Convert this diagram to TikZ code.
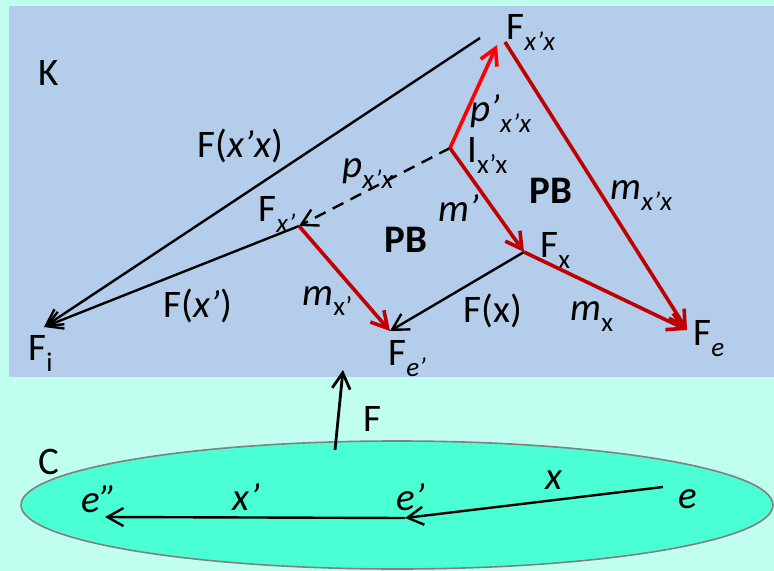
\documentclass[tikz,border=0pt]{standalone}
\usepackage{fontspec}
\setmainfont{Carlito}
\usepackage{tikz}
\usetikzlibrary{arrows.meta,positioning}
\definecolor{mint}{HTML}{C0FFEF}
\definecolor{kblue}{HTML}{B3CDEA}
\definecolor{cgreen}{HTML}{4AFFD4}
\definecolor{darkred}{HTML}{C00000}
\definecolor{brightred}{HTML}{FF0000}
\newcommand{\sbs}[1]{\raisebox{-5.5pt}{\fontsize{13.5}{14}\selectfont #1}}
\newcommand{\pr}{\char"27\relax}

\begin{document}
\begin{tikzpicture}[x=0.5pt,y=-0.5pt,
  lbl/.style={font=\fontsize{19.5}{22}\selectfont, inner sep=0pt, anchor=base west},
  tip/.style={-{Straight Barb[length=8pt,width=9pt]}},
  blk/.style={tip, draw=black, line width=1.2pt},
  redarr/.style={tip, draw=darkred, line width=1.8pt},
  pbar/.style={tip, draw=brightred, line width=1.8pt}]
  \useasboundingbox (0,0) rectangle (774,571);
  % backgrounds
  \fill[mint] (0,0) rectangle (774,571);
  \fill[kblue] (9,6) rectangle (774,377);
  \draw[gray, line width=0.8pt, fill=cgreen] (397,505) ellipse (376 and 64);
  % points of K
  \coordinate (ftop) at (480,38);
  \coordinate (fxx) at (497,45);
  \coordinate (fxxs) at (505,42);
  \coordinate (ixx) at (450,148);
  \coordinate (fxp) at (299,226);
  \coordinate (fx) at (524,252);
  \coordinate (fep) at (390,331);
  \coordinate (fe) at (687,330);
  \coordinate (fi) at (44,327);
  % labels of K
  \node[lbl] (k) at (38,86) {K};
  \node[lbl] (lfxx) at (506,40) {F\sbs{\textit{x\pr x}}};
  \node[lbl] (lixx) at (467,163) {I\sbs{x\pr x}};
  \node[lbl] (lfxp) at (258,222) {F\sbs{\textit{x'}}};
  \node[lbl] (lfx) at (540,257) {F\sbs{x}};
  \node[lbl] (lfep) at (388,365) {F\sbs{\textit{e'}}};
  \node[lbl] (lfe) at (693,345) {F\sbs{\textit{e}}};
  \node[lbl] (lfi) at (28,360) {F\sbs{i}};
  \node[lbl] (lpp) at (470,122) {\textit{p\pr}\sbs{\textit{x\pr x}}};
  \node[lbl] (lp) at (342,178) {\textit{p}\sbs{\textit{x\pr x}}};
  \node[lbl] (lmp) at (438,222) {\textit{m'}};
  \node[lbl] (lmxx) at (610,200) {\textit{m}\sbs{\textit{x\pr x}}};
  \node[lbl] (lmxp) at (302,305) {\textit{m}\sbs{x'}};
  \node[lbl] (lmx) at (570,320) {\textit{m}\sbs{x}};
  \node[lbl] (lFx) at (463,322) {F(x)};
  \node[lbl] (lFxp) at (163,317) {F(\textit{x\pr})};
  \node[lbl] (lFxx) at (197,158) {F(\textit{x\pr x})};
  \node[lbl, font=\fontsize{19.5}{22}\selectfont\bfseries] (pb1) at (384,253) {PB};
  \node[lbl, font=\fontsize{19.5}{22}\selectfont\bfseries] (pb2) at (529,204) {PB};
  % arrows of K
  \draw[blk] (ftop) -- (fi);
  \draw[blk] (fxp) -- (fi);
  \draw[blk] (fx) -- (fep);
  \draw[blk, dash pattern=on 6pt off 4pt] (ixx) -- (fxp);
  \draw[pbar] (ixx) -- (fxx);
  \draw[redarr] (ixx) -- (fx);
  \draw[redarr] (fxxs) -- (fe);
  \draw[redarr] (fx) -- (fe);
  \draw[redarr] (fxp) -- (fep);
  % functor F
  \coordinate (fbot) at (335,450);
  \coordinate (ftopF) at (343,370);
  \draw[blk, line width=1.4pt] (fbot) -- (ftopF);
  \node[lbl] (lF) at (363,431) {F};
  % category C
  \node[lbl] (c) at (38,474) {C};
  \coordinate (e) at (663,487);
  \coordinate (ep) at (405,518);
  \coordinate (epp) at (105,517);
  \draw[blk] (e) -- (ep);
  \draw[blk] (ep) -- (epp);
  \node[lbl, font=\fontsize{19.5}{22}\selectfont\itshape] (le) at (678,508) {e};
  \node[lbl, font=\fontsize{19.5}{22}\selectfont\itshape] (lep) at (396,510) {e\pr};
  \node[lbl, font=\fontsize{19.5}{22}\selectfont\itshape] (lepp) at (81,512) {e\char"22\relax};
  \node[lbl, font=\fontsize{19.5}{22}\selectfont\itshape] (lx) at (545,489) {x};
  \node[lbl, font=\fontsize{19.5}{22}\selectfont\itshape] (lxp) at (232,510) {x\pr};
\end{tikzpicture}
\end{document}
